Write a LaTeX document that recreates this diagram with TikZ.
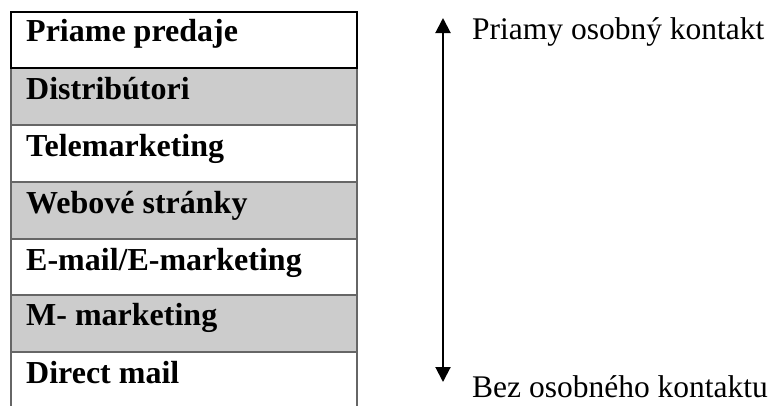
\documentclass[tikz,border=0pt]{standalone}
\usepackage{fontspec}
\setmainfont{Liberation Serif}
\usetikzlibrary{arrows.meta}
\definecolor{rowgrey}{HTML}{CCCCCC}
\definecolor{gridgrey}{HTML}{666666}
\tikzset{
  rowlabel/.style={anchor=base west, inner sep=0pt, font=\bfseries\fontsize{32}{32}\selectfont},
  sidelabel/.style={anchor=base west, inner sep=0pt, font=\fontsize{31.5}{31.5}\selectfont},
  gridline/.style={draw=gridgrey, line width=1.5pt},
  scalearrow/.style={line width=2pt, {Triangle[length=15pt,width=15pt]}-{Triangle[length=15pt,width=15pt]}},
}
\begin{document}
\begin{tikzpicture}[x=1pt,y=-1pt]
\useasboundingbox (0,0) rectangle (773,405);
\begin{scope}
\clip (0,0) rectangle (773,405);
% shaded rows
\fill[rowgrey] (11,68) rectangle (357,125);
\fill[rowgrey] (11,182) rectangle (357,239);
\fill[rowgrey] (11,295) rectangle (357,352);
% grid
\draw[gridline] (11,68) -- (11,420);
\draw[gridline] (357,68) -- (357,420);
\foreach \yy in {125,182,239,295,352} {
  \draw[gridline] (11,\yy) -- (357,\yy);
}
% first row framed in black
\draw[line width=2pt] (11,12) rectangle (357,68);
\end{scope}
% row texts
\node[rowlabel] (r1) at (26,41.5) {Priame predaje};
\node[rowlabel] (r2) at (26,99) {Distribútori};
\node[rowlabel] (r3) at (26,156) {Telemarketing};
\node[rowlabel] (r4) at (26,213) {Webové stránky};
\node[rowlabel] (r5) at (26,270) {E-mail/E-marketing};
\node[rowlabel] (r6) at (26,325) {M- marketing};
\node[rowlabel] (r7) at (26,383) {Direct mail};
% scale arrow and its ends
\coordinate (top) at (443,18);
\coordinate (bot) at (443,382);
\draw[scalearrow] (bot) -- (top);
\node[sidelabel] (hi) at (472,39.5) {Priamy osobný kontakt};
\node[sidelabel] (lo) at (472,397) {Bez osobného kontaktu};
\end{tikzpicture}
\end{document}
